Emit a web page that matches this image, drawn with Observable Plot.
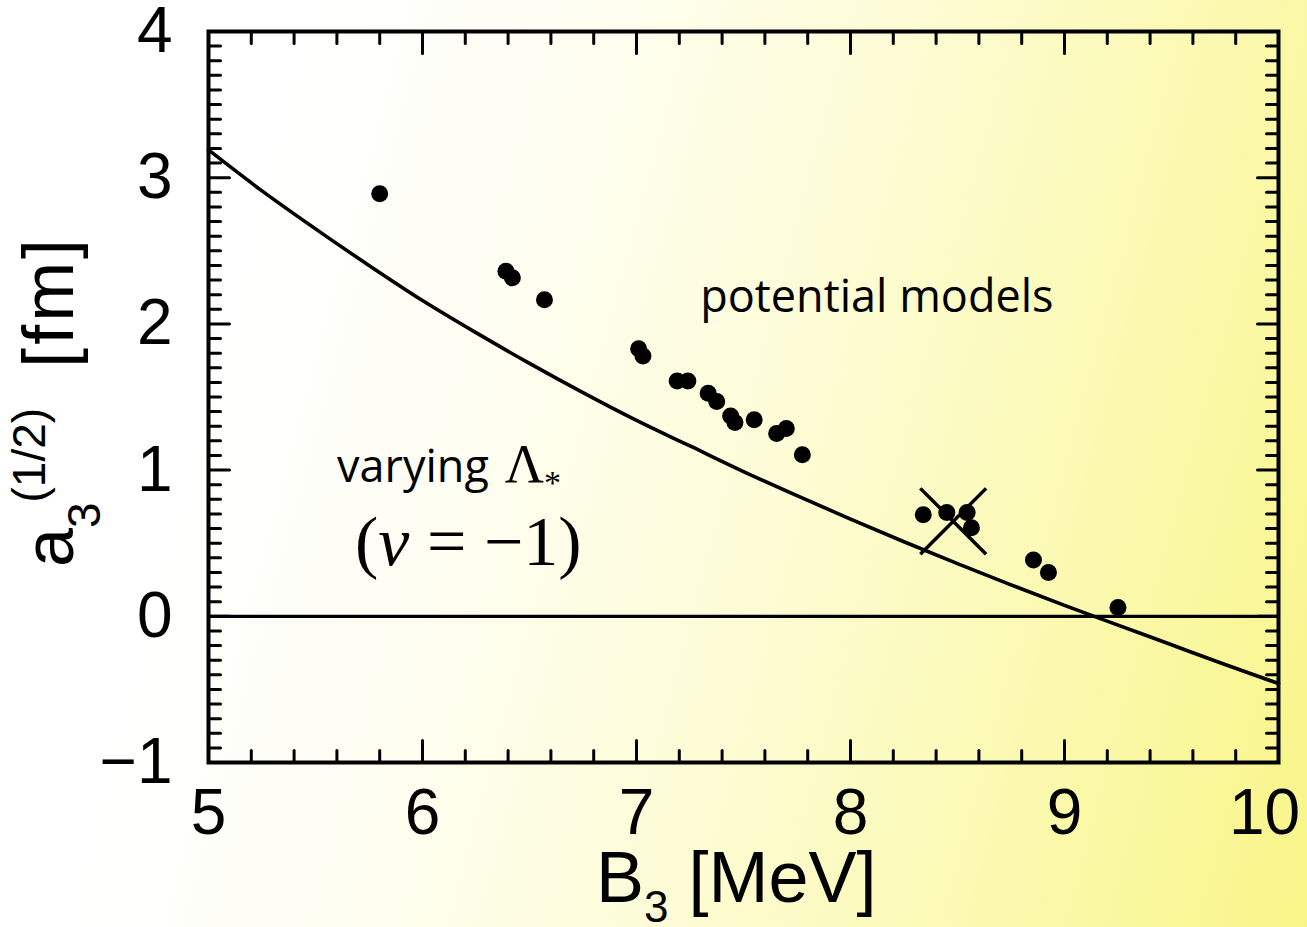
<!DOCTYPE html>
<html><head><meta charset="utf-8">
<script src="https://cdn.jsdelivr.net/npm/d3@7"></script>
<script src="https://cdn.jsdelivr.net/npm/@observablehq/plot@0.6"></script>
<style>
html,body{margin:0;padding:0;}
body{width:1307px;height:927px;overflow:hidden;
 background:linear-gradient(105deg,#ffffff 0%,#ffffff 20%,#fefef2 38%,#fdfcd6 58%,#fbf9ae 80%,#f8f588 100%);}
#chart svg{display:block;background:transparent;}
</style></head><body><div id="chart"></div>
<script>
// potential-model points: B3 [MeV], a3 [fm]
const modelB3 = [5.80, 6.39, 6.42, 6.57, 7.01, 7.03, 7.19, 7.24, 7.335, 7.375, 7.44, 7.46, 7.55, 7.655, 7.70, 7.775, 8.34, 8.45, 8.545, 8.565, 8.855, 8.925, 9.25];
const modelA3 = [2.89, 2.36, 2.315, 2.165, 1.83, 1.78, 1.61, 1.61, 1.525, 1.47, 1.37, 1.325, 1.345, 1.25, 1.285, 1.105, 0.695, 0.71, 0.71, 0.605, 0.385, 0.30, 0.06];
// varying Lambda* curve
const curveB3 = [5.0, 5.25, 5.5, 5.75, 6.0, 6.25, 6.5, 6.75, 7.0, 7.25, 7.5, 7.75, 8.0, 8.25, 8.5, 8.75, 9.0, 9.25, 9.5, 9.75, 10.0];
const curveA3 = [3.19, 2.91, 2.65, 2.40, 2.16, 1.94, 1.73, 1.53, 1.34, 1.165, 0.99, 0.825, 0.665, 0.51, 0.36, 0.215, 0.075, -0.06, -0.195, -0.33, -0.46];
// experimental value (cross)
const exptB3 = [8.48];
const exptA3 = [0.65];
// ticks
const xTicks = [5, 6, 7, 8, 9, 10];
const yTicks = [-1, 0, 1, 2, 3, 4];
const xMinor = d3.range(5, 10.0001, 0.2).map(v => +v.toFixed(1)).filter(v => !xTicks.includes(v));
const yMinor = d3.range(-1, 4.0001, 0.1).map(v => +v.toFixed(1)).filter(v => !yTicks.includes(v));
// annotations
const noteText = ["potential models", "varying", "(ν = −1)"];
const noteB3 = [7.30, 5.603, 5.687];
const noteA3 = [2.08, 0.915, 0.347];

const models = modelB3.map((b, i) => ({b, a: modelA3[i]}));
const curve = curveB3.map((b, i) => ({b, a: curveA3[i]}));
const expt = exptB3.map((b, i) => ({b, a: exptA3[i]}));

const fmt = d => d < 0 ? "\u2212" + (-d) : String(d);
const tickShape = {draw(ctx, l) { ctx.moveTo(0, 0); ctx.lineTo(0, -l); }};
const tk = (data, opts) => Plot.vector(data, {anchor: "start", shape: tickShape, stroke: "black", strokeWidth: 3, ...opts});
const lastX = xTicks[xTicks.length - 1];

const plot = Plot.plot({
  width: 1307, height: 927,
  marginLeft: 208, marginRight: 29, marginTop: 31, marginBottom: 165,
  x: {domain: [5, 10]},
  y: {domain: [-1, 4]},
  style: {background: "transparent", fontFamily: "'Liberation Sans', Arial, sans-serif", color: "black"},
  marks: [
    Plot.ruleY([0], {stroke: "black", strokeWidth: 3.2}),
    Plot.line(curve, {x: "b", y: "a", stroke: "black", strokeWidth: 3.6, curve: "monotone-x"}),
    Plot.dot(models, {x: "b", y: "a", r: 8.5, fill: "black"}),
    Plot.dot(expt, {x: "b", y: "a", symbol: "times", r: 30, stroke: "black", strokeWidth: 3.5}),
    // inward ticks
    tk(xMinor, {x: d => d, frameAnchor: "bottom", rotate: 0, length: 12}),
    tk(xTicks, {x: d => d, frameAnchor: "bottom", rotate: 0, length: 22}),
    tk(xMinor, {x: d => d, frameAnchor: "top", rotate: 180, length: 12}),
    tk(xTicks, {x: d => d, frameAnchor: "top", rotate: 180, length: 22}),
    tk(yMinor, {y: d => d, frameAnchor: "left", rotate: 90, length: 12}),
    tk(yTicks, {y: d => d, frameAnchor: "left", rotate: 90, length: 21}),
    tk(yMinor, {y: d => d, frameAnchor: "right", rotate: -90, length: 12}),
    tk(yTicks, {y: d => d, frameAnchor: "right", rotate: -90, length: 21}),
    Plot.axisX(xTicks.filter(d => d !== lastX), {anchor: "bottom", tickSize: 0, tickPadding: 26, fontSize: 64, label: null, tickFormat: fmt}),
    Plot.axisX([lastX], {anchor: "bottom", tickSize: 0, tickPadding: 26, fontSize: 64, label: null, tickFormat: fmt, dx: -14}),
    Plot.axisY(yTicks, {anchor: "left", tickSize: 0, tickPadding: 36, fontSize: 64, label: null, tickFormat: fmt}),
    Plot.frame({stroke: "black", strokeWidth: 4})
  ]
});
document.getElementById("chart").appendChild(plot);

const sx = plot.scale("x"), sy = plot.scale("y");
const svg = d3.select(plot);

// x axis label
const xl = svg.append("text").attr("x", 596).attr("y", 902).attr("text-anchor", "start")
  .attr("font-family", "'Liberation Sans', Arial, sans-serif").attr("font-size", 72).attr("fill", "black");
xl.append("tspan").text("B");
xl.append("tspan").attr("font-size", 44).attr("dy", 20).text("3");
xl.append("tspan").attr("dy", -20).text(" [MeV]");

// y axis label
const yl = svg.append("text").attr("transform", "translate(73,567) rotate(-90)").attr("text-anchor", "start")
  .attr("font-family", "'Liberation Sans', Arial, sans-serif").attr("font-size", 70).attr("fill", "black");
yl.append("tspan").text("a");
yl.append("tspan").attr("font-size", 46).attr("dy", 27).text("3");
yl.append("tspan").attr("font-size", 46).attr("dy", -55).text("(1/2)");
yl.append("tspan").attr("font-size", 72).attr("letter-spacing", 3).attr("dy", 28).attr("dx", 40).text("[fm]");

// annotations
const comic = "'Comic Sans MS', 'Open Sans', sans-serif";
svg.append("text").attr("x", sx.apply(noteB3[0])).attr("y", sy.apply(noteA3[0])).attr("text-anchor", "start")
  .attr("font-family", comic).attr("font-size", 45).attr("fill", "black").text(noteText[0]);

const v = svg.append("text").attr("x", sx.apply(noteB3[1])).attr("y", sy.apply(noteA3[1])).attr("text-anchor", "start")
  .attr("font-family", comic).attr("font-size", 45).attr("fill", "black");
v.append("tspan").text(noteText[1]);
v.append("tspan").attr("font-family", "'Liberation Serif', 'Times New Roman', serif").attr("font-size", 54).attr("dx", 16).text("Λ");
v.append("tspan").attr("font-family", "'Liberation Serif', 'Times New Roman', serif").attr("font-size", 34).attr("dy", 12).text("*");

const n = svg.append("text").attr("x", sx.apply(noteB3[2])).attr("y", sy.apply(noteA3[2])).attr("text-anchor", "start")
  .attr("font-family", "'Liberation Serif', 'Times New Roman', serif").attr("font-size", 70).attr("fill", "black");
const parts = noteText[2].split("ν");
n.append("tspan").text(parts[0]);
n.append("tspan").attr("font-style", "italic").text("ν");
n.append("tspan").text(parts[1]);
</script>
</body></html>
